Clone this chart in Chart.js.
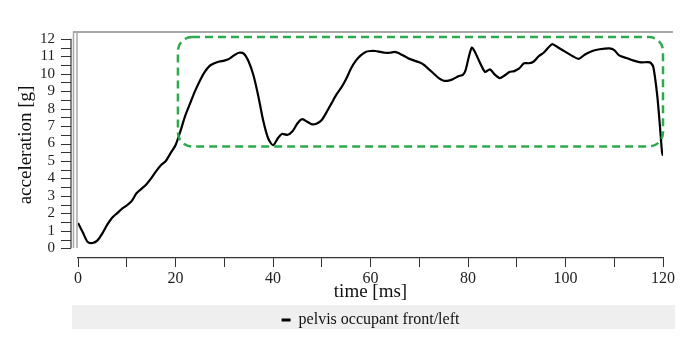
<!DOCTYPE html>
<html>
<head>
<meta charset="utf-8">
<script src="https://cdn.jsdelivr.net/npm/chart.js@4"></script>
<style>
  html, body { margin: 0; padding: 0; background: #fff; }
  #wrap { width: 694px; height: 352px; }
</style>
</head>
<body>
<div id="wrap"><canvas id="pelvisChart" width="694" height="352"></canvas></div>
<script>
// time in ms, acceleration in g
var timeMs = [0, 1, 2, 3, 4, 5, 6, 7, 8, 9, 10, 11, 12, 13, 14, 15, 16, 17, 18, 19,
    20, 21, 22, 23, 24, 25, 26, 27, 28, 29, 30, 31, 32, 33, 34, 35, 36, 37, 38, 39,
    40, 41, 41.8, 43, 44, 45, 46, 47, 48, 49, 50, 51, 52, 53, 54, 55, 56, 57, 58, 59,
    60, 61, 62, 63, 64, 65, 66, 67, 68, 69, 70, 71, 72, 73, 74, 75, 76, 77, 78, 79,
    79.5, 80.2, 80.8, 81.5, 82.5, 83.5, 84.5, 85.5, 86.5, 87.5, 88.5, 89.5, 90.5, 91.5, 92.5, 93.5,
    94.5, 95.5, 96.5, 97.3, 98.5, 100, 101.5, 102.7, 104, 105.5, 107, 109, 110, 111,
    112.5, 114, 115.5, 117.3, 118, 118.8, 119.4, 119.8, 120];
var accelG = [1.45, 0.9, 0.35, 0.3, 0.45, 0.85, 1.35, 1.75, 2.0, 2.25, 2.45, 2.7, 3.15, 3.4, 3.65, 4.0, 4.4, 4.75, 5.0, 5.45,
    5.9, 6.7, 7.6, 8.3, 9.0, 9.6, 10.1, 10.45, 10.6, 10.7, 10.75, 10.85, 11.05, 11.2, 11.15, 10.7, 9.9, 8.7, 7.3, 6.3,
    5.9, 6.3, 6.55, 6.5, 6.7, 7.15, 7.4, 7.25, 7.1, 7.15, 7.35, 7.8, 8.3, 8.8, 9.2, 9.7, 10.3, 10.75, 11.05, 11.25,
    11.3, 11.3, 11.25, 11.2, 11.2, 11.25, 11.15, 11.0, 10.85, 10.75, 10.65, 10.5, 10.25, 10.0, 9.75, 9.6, 9.6, 9.7, 9.85, 9.95,
    10.2, 11.0, 11.5, 11.2, 10.6, 10.1, 10.25, 9.95, 9.75, 9.9, 10.1, 10.15, 10.3, 10.6, 10.6, 10.7,
    11.0, 11.2, 11.5, 11.7, 11.5, 11.25, 11.0, 10.85, 11.1, 11.3, 11.4, 11.45, 11.35, 11.05,
    10.9, 10.75, 10.65, 10.65, 10.4, 8.8, 6.9, 5.5, 5.3];

var yTickLabels = [0, 1, 2, 3, 4, 5, 6, 7, 8, 9, 10, 11, 12];
var yMinorTicks = [0, 0.5, 1, 1.5, 2, 2.5, 3, 3.5, 4, 4.5, 5, 5.5, 6, 6.5, 7, 7.5, 8, 8.5, 9, 9.5, 10, 10.5, 11, 11.5, 12];
// highlighted region (green dashed box), data units
var highlightX = [20.5, 120];
var highlightY = [5.83, 12.1];

var serif = '"Liberation Serif", "DejaVu Serif", serif';

var framePlugin = {
    id: 'frame',
    beforeDraw: function (chart) {
        var c = chart.ctx;
        // legend background strip
        c.save();
        c.fillStyle = '#efefef';
        c.fillRect(72, 305, 603, 24);
        c.restore();
    },
    beforeDatasetsDraw: function (chart) {
        var c = chart.ctx;
        var ys = chart.scales.y;
        var top = chart.chartArea.top;
        c.save();
        // grey plot frame
        c.strokeStyle = '#a8a8a8';
        c.lineWidth = 2;
        c.beginPath();
        c.moveTo(73, top);
        c.lineTo(673, top);
        c.stroke();
        c.lineWidth = 1.5;
        c.beginPath();
        c.moveTo(73.5, top);
        c.lineTo(73.5, 248);
        c.moveTo(77, top);
        c.lineTo(77, 248);
        c.stroke();
        // y axis line and ticks
        c.strokeStyle = '#333';
        c.lineWidth = 1.2;
        c.beginPath();
        c.moveTo(71, ys.getPixelForValue(0));
        c.lineTo(71, ys.getPixelForValue(12));
        yMinorTicks.forEach(function (v) {
            var py = Math.round(ys.getPixelForValue(v)) + 0.5;
            c.moveTo(61, py);
            c.lineTo(71, py);
        });
        c.stroke();
        c.restore();
    },
    afterDatasetsDraw: function (chart) {
        var c = chart.ctx;
        var xs = chart.scales.x, ys = chart.scales.y;
        var x0 = xs.getPixelForValue(highlightX[0]);
        var x1 = xs.getPixelForValue(highlightX[1]);
        var y0 = ys.getPixelForValue(highlightY[1]);
        var y1 = ys.getPixelForValue(highlightY[0]);
        c.save();
        c.strokeStyle = '#2eaa4c';
        c.lineWidth = 2.5;
        c.setLineDash([8, 5]);
        c.beginPath();
        c.roundRect(x0, y0, x1 - x0, y1 - y0, 14);
        c.stroke();
        c.restore();
    }
};

var ctx = document.getElementById('pelvisChart').getContext('2d');
var pelvisChart = new Chart(ctx, {
    type: 'line',
    data: {
        datasets: [{
            label: 'pelvis occupant front/left',
            data: timeMs.map(function (t, i) { return { x: t, y: accelG[i] }; }),
            borderColor: '#000',
            backgroundColor: '#000',
            borderWidth: 2.2,
            pointRadius: 0,
            tension: 0.25,
            fill: false
        }]
    },
    options: {
        responsive: false,
        animation: false,
        layout: {
            padding: { left: 0, right: 31, top: 21, bottom: 14 }
        },
        scales: {
            x: {
                type: 'linear',
                min: 0,
                max: 120,
                afterFit: function (scale) { scale.height = 48; },
                grid: {
                    drawOnChartArea: false,
                    tickLength: 9,
                    color: '#333'
                },
                border: { display: true, color: '#333', width: 1.2 },
                ticks: {
                    stepSize: 10,
                    padding: 2,
                    maxRotation: 0,
                    autoSkip: false,
                    color: '#222',
                    font: { family: serif, size: 16 },
                    callback: function (v) { return v % 20 === 0 ? v : ''; }
                },
                title: {
                    display: true,
                    text: 'time [ms]',
                    color: '#111',
                    font: { family: serif, size: 19 },
                    padding: { top: 0, bottom: 3 }
                }
            },
            y: {
                min: -0.56,
                max: 12.39,
                afterFit: function (scale) { scale.width = 78; },
                afterBuildTicks: function (scale) {
                    scale.ticks = yTickLabels.map(function (v) { return { value: v }; });
                },
                grid: { display: false, drawTicks: false },
                border: { display: false },
                ticks: {
                    padding: 23,
                    autoSkip: false,
                    color: '#222',
                    font: { family: serif, size: 15 }
                },
                title: {
                    display: true,
                    text: 'acceleration [g]',
                    color: '#111',
                    font: { family: serif, size: 19 },
                    padding: { top: 15, bottom: 0 }
                }
            }
        },
        plugins: {
            legend: {
                position: 'bottom',
                fullSize: false,
                labels: {
                    boxWidth: 9,
                    boxHeight: 3,
                    padding: 6,
                    color: '#111',
                    font: { family: serif, size: 16 },
                    generateLabels: function (chart) {
                        return Chart.defaults.plugins.legend.labels.generateLabels(chart).map(function (l) {
                            l.lineWidth = 0;
                            l.fillStyle = '#000';
                            return l;
                        });
                    }
                }
            },
            tooltip: { enabled: false }
        }
    },
    plugins: [framePlugin]
});
</script>
</body>
</html>
